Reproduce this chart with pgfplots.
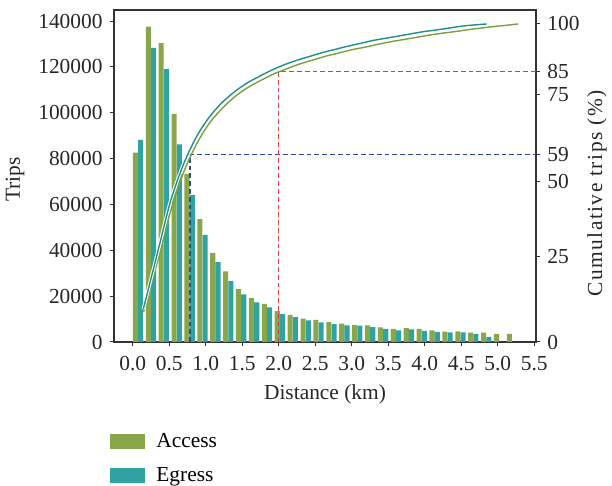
\documentclass[border=0pt]{standalone}
\usepackage{fontspec}
\setmainfont{Liberation Serif}
\usepackage{pgfplots}
\pgfplotsset{compat=1.18}
\usepackage{pgfplotstable}

\definecolor{accessgreen}{HTML}{8AA64B}
\definecolor{egressteal}{HTML}{2FA39F}
\definecolor{accline}{HTML}{7C9E3C}
\definecolor{egrline}{HTML}{1E8F8B}
\definecolor{dashblue}{HTML}{3347A6}
\definecolor{dashred}{HTML}{E23B3B}
\definecolor{axisgray}{HTML}{333333}

\pgfplotstableread{
x y
0.037 82600
0.214 137500
0.390 130300
0.567 99400
0.744 73300
0.920 53600
1.097 38800
1.274 30800
1.450 23100
1.627 19100
1.804 16600
1.980 13500
2.157 11800
2.334 10200
2.510 9700
2.687 8700
2.864 8000
3.040 7400
3.217 7300
3.394 6400
3.570 5700
3.747 6100
3.924 5700
4.100 5100
4.277 4500
4.454 4600
4.630 4100
4.807 4100
4.984 3500
5.160 3500
}\accesstab

\pgfplotstableread{
x y
0.109 88100
0.286 128300
0.462 119000
0.639 86200
0.816 64100
0.992 46700
1.169 34800
1.346 26700
1.522 20800
1.699 17300
1.876 15100
2.052 12200
2.229 10900
2.406 9400
2.582 8600
2.759 7800
2.936 7300
3.112 7100
3.289 6500
3.466 5700
3.642 5100
3.819 5500
3.996 4900
4.172 4400
4.349 4200
4.526 4200
4.702 3400
4.879 2200
}\egresstab

\pgfplotstableread{
x y
0.150 9.5
0.353 26.4
0.530 42.0
0.707 53.9
0.883 62.6
1.060 69.1
1.237 73.7
1.413 77.4
1.590 80.2
1.767 82.4
1.943 84.4
2.120 86.0
2.297 87.5
2.473 88.7
2.650 89.9
2.827 90.9
3.003 91.9
3.180 92.7
3.357 93.6
3.533 94.4
3.710 95.1
3.887 95.8
4.063 96.5
4.240 97.1
4.417 97.6
4.593 98.2
4.770 98.7
4.947 99.2
5.123 99.6
5.280 100.0
}\acccum

\pgfplotstableread{
x y
0.145 10.3
0.346 28.6
0.519 44.3
0.693 55.7
0.866 64.2
1.039 70.4
1.212 75.0
1.385 78.5
1.558 81.3
1.732 83.5
1.905 85.5
2.078 87.2
2.251 88.6
2.424 89.8
2.598 91.0
2.771 92.0
2.944 93.0
3.117 93.9
3.290 94.8
3.463 95.5
3.637 96.2
3.810 96.9
3.983 97.6
4.156 98.1
4.329 98.7
4.502 99.3
4.675 99.7
4.849 100.0
}\egrcum

\pgfplotsset{
  common/.style={
    at={(0,0)}, anchor=south west,
    scale only axis, width=211pt, height=166pt,
    xmin=-0.256, xmax=5.525,
    tick align=outside,
    major tick length=2.2pt,
    tick style={axisgray, line width=0.5pt},
    axis line style={axisgray, line width=0.6pt},
    ticklabel style={font=\fontsize{10.7}{12}\selectfont, text=black!85},
    label style={font=\fontsize{10.7}{12}\selectfont, text=black!85},
    /pgf/number format/assume math mode=true,
    scaled x ticks=false, scaled y ticks=false,
  }
}

\begin{document}
\begin{tikzpicture}
\useasboundingbox (-57pt,-72pt) rectangle (249pt,171pt);
\begin{axis}[
  common,
  ymin=0, ymax=144800,
  xtick={0,0.5,1,1.5,2,2.5,3,3.5,4,4.5,5,5.5},
  xticklabels={0.0,0.5,1.0,1.5,2.0,2.5,3.0,3.5,4.0,4.5,5.0,5.5},
  ytick={0,20000,40000,60000,80000,100000,120000,140000},
  yticklabels={0,20000,40000,60000,80000,100000,120000,140000},
  xtick pos=left, ytick pos=left,
  xticklabel style={yshift=-1.5pt},
  xlabel={Distance (km)},
  ylabel={Trips},
  xlabel style={at={(axis description cs:0.5,-0.1566)}, anchor=center},
  ylabel style={at={(axis description cs:-0.2346,0.49)}, anchor=center},
  legend style={draw=none, fill=none, inner sep=0pt,
    at={(axis description cs:-0.0095,-0.262)}, anchor=north west,
    row sep=4.3pt, font=\fontsize{10.7}{12}\selectfont,
    /tikz/every odd column/.append style={column sep=3.5pt}},
  legend cell align=left,
]
\addplot[ybar, bar width=0.07, bar shift=0pt, fill=accessgreen, draw=none,
  legend image code/.code={\fill[accessgreen] (0pt,-3.75pt) rectangle (17.5pt,3.75pt);}]
  table[x=x, y=y] \accesstab;
\addlegendentry{Access}
\addplot[ybar, bar width=0.07, bar shift=0pt, fill=egressteal, draw=none,
  legend image code/.code={\fill[egressteal] (0pt,-3.75pt) rectangle (17.5pt,3.75pt);}]
  table[x=x, y=y] \egresstab;
\addlegendentry{Egress}
\end{axis}

\begin{axis}[
  common,
  ymin=0, ymax=104.4,
  axis x line=none,
  xtick=\empty,
  axis y line*=right,
  axis line style={-},
  ytick={0,27,50.5,59,77.8,85,100},
  yticklabels={0,25,50,59,75,85,100},
  ylabel={\addfontfeature{LetterSpace=7}Cumulative trips (\%)},
  ylabel style={at={(axis description cs:1.1445,0.447)}, anchor=center},
]
\addplot[dashblue, line width=0.75pt, dash pattern=on 2.4pt off 1.5pt] coordinates {(0.785,0) (0.785,59) (5.525,59)};
\addplot[dashred, line width=0.75pt, dash pattern=on 2.4pt off 1.5pt] coordinates {(2.0,0) (2.0,85) (5.525,85)};
\addplot[accline, line width=0.7pt, smooth] table[x=x, y=y] \acccum;
\addplot[white, line width=1.7pt, smooth] table[x=x, y=y] \egrcum;
\addplot[egrline, line width=0.7pt, smooth] table[x=x, y=y] \egrcum;
\end{axis}
\end{tikzpicture}
\end{document}
